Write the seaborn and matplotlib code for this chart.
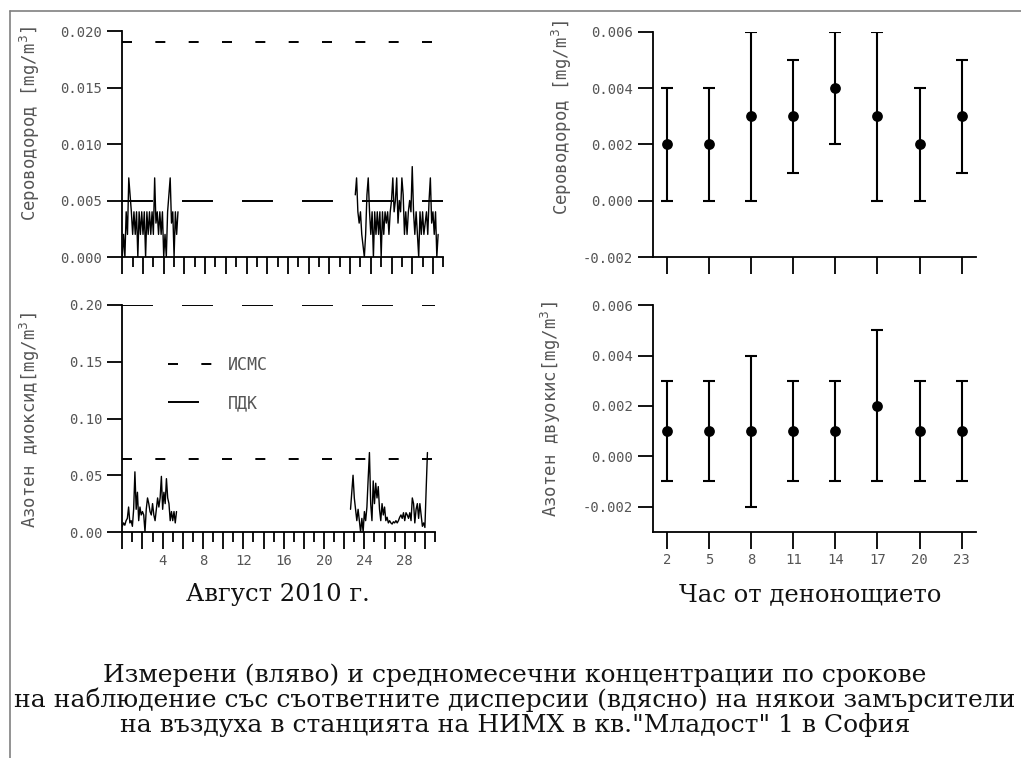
import numpy as np
import pandas as pd
import matplotlib
matplotlib.use("Agg")
import matplotlib.pyplot as plt
import seaborn as sns
from matplotlib.lines import Line2D
from matplotlib.ticker import FixedLocator, FuncFormatter

# ---------------- data ----------------
STEP = 0.125  # days between readings (3 h)

# Hydrogen sulphide, measured (mg/m3), two measuring periods in August 2010
h2s_p1_start = 0.0
h2s_p1 = [0.000, 0.002, 0.000, 0.004, 0.002, 0.007, 0.0055, 0.004,
          0.002, 0.004, 0.002, 0.004, 0.000, 0.004, 0.002, 0.004,
          0.002, 0.004, 0.000, 0.004, 0.002, 0.004, 0.002, 0.004,
          0.002, 0.007, 0.003, 0.004, 0.002, 0.004, 0.002, 0.004,
          0.000, 0.002, 0.000, 0.004, 0.0055, 0.007, 0.003, 0.004,
          0.000, 0.004, 0.002, 0.004]
h2s_p2_start = 22.5
h2s_p2 = [0.0055, 0.007, 0.004, 0.003, 0.004, 0.002, 0.001, 0.000,
          0.002, 0.0055, 0.007, 0.004, 0.002, 0.004, 0.000, 0.004,
          0.002, 0.004, 0.002, 0.004, 0.000, 0.004, 0.002, 0.004,
          0.003, 0.004, 0.002, 0.004, 0.005, 0.007, 0.004, 0.005,
          0.007, 0.003, 0.005, 0.004, 0.007, 0.0055, 0.002, 0.004,
          0.002, 0.004, 0.005, 0.004, 0.008, 0.004, 0.002, 0.004,
          0.002, 0.000, 0.004, 0.002, 0.004, 0.002, 0.003, 0.004,
          0.002, 0.005, 0.007, 0.003, 0.004, 0.002, 0.004, 0.000,
          0.002]

# Nitrogen dioxide, measured (mg/m3)
no2_p1_start = 0.0
no2_p1 = [0.005, 0.008, 0.006, 0.010, 0.012, 0.022, 0.008, 0.010,
          0.005, 0.020, 0.053, 0.020, 0.035, 0.010, 0.022, 0.015,
          0.018, 0.015, 0.000, 0.020, 0.030, 0.025, 0.018, 0.015,
          0.025, 0.015, 0.010, 0.020, 0.030, 0.022, 0.030, 0.049,
          0.020, 0.035, 0.025, 0.047, 0.030, 0.025, 0.010, 0.018,
          0.010, 0.018, 0.008, 0.018]
no2_p2_start = 22.625
no2_p2 = [0.020, 0.035, 0.050, 0.030, 0.020,
          0.010, 0.020, 0.010, 0.000, 0.012, 0.000, 0.018, 0.010,
          0.022, 0.047, 0.070, 0.025, 0.010, 0.045, 0.025, 0.043,
          0.030, 0.040, 0.020, 0.010, 0.025, 0.015, 0.022, 0.010,
          0.013, 0.008, 0.010, 0.008, 0.007, 0.009, 0.008, 0.010,
          0.008, 0.010, 0.013, 0.015, 0.012, 0.017, 0.010, 0.017,
          0.015, 0.012, 0.017, 0.010, 0.030, 0.025, 0.008, 0.020,
          0.025, 0.012, 0.025, 0.015, 0.005, 0.008, 0.004, 0.038,
          0.070]

# limit values (mg/m3)
h2s_isms, h2s_pdk = 0.019, 0.005
no2_isms, no2_pdk = 0.064, 0.20
legend_labels = ["ИСМС", "ПДК"]

# monthly means by observation hour with dispersions
hours = [2, 5, 8, 11, 14, 17, 20, 23]
h2s_mean = [0.002, 0.002, 0.003, 0.003, 0.004, 0.003, 0.002, 0.003]
h2s_err = [0.002, 0.002, 0.003, 0.002, 0.002, 0.003, 0.002, 0.002]
no2_mean = [0.001, 0.001, 0.001, 0.001, 0.001, 0.002, 0.001, 0.001]
no2_err = [0.002, 0.002, 0.003, 0.002, 0.002, 0.003, 0.002, 0.002]

ylab_h2s = "Сероводород [mg/m$^3$]"
ylab_no2_left = "Азотен диоксид[mg/m$^3$]"
ylab_no2_right = "Азотен двуокис[mg/m$^3$]"
xlab_left = "Август 2010 г."
xlab_right = "Час от денонощието"
caption = ("Измерени (вляво) и средномесечни концентрации по срокове\n"
           "на наблюдение със съответните дисперсии (вдясно) на някои замърсители\n"
           "на въздуха в станцията на НИМХ в кв.\"Младост\" 1 в София")

# ---------------- style ----------------
sns.set_theme(style="white")
plt.rcParams["font.family"] = ["DejaVu Sans Mono", "DejaVu Sans"]
plt.rcParams["axes.unicode_minus"] = False
plt.rcParams["lines.scale_dashes"] = False

MONO = ["DejaVu Sans Mono", "DejaVu Sans"]
ISMS_STYLE = (0, (7.2, 16.8))
PDK_STYLE = (0, (22.3, 20.9))
YLAB_SIZE = 12.5


def series_frame(start, values, period):
    days = start + np.arange(len(values)) * STEP
    return pd.DataFrame({"day": days, "value": values, "period": period})


def style_axes(ax):
    sns.despine(ax=ax)
    for s in ("left", "bottom"):
        ax.spines[s].set_color("black")
        ax.spines[s].set_linewidth(1.3)
    ax.tick_params(axis="y", direction="out", length=11, width=1.3, color="black",
                   labelsize=10, labelcolor="#555555", pad=3.5, left=True)
    ax.tick_params(axis="x", which="major", direction="out", length=12.5, width=1.3,
                   color="black", labelsize=10, labelcolor="#555555", pad=3, bottom=True)
    ax.tick_params(axis="x", which="minor", direction="out", length=7, width=1.3,
                   color="black", bottom=True)
    for lab in ax.get_yticklabels() + ax.get_xticklabels():
        lab.set_family(MONO)
    ax.grid(False)
    ax.set_xlabel("")


def day_ticks(ax, labels):
    ax.xaxis.set_major_locator(FixedLocator(np.arange(0, 32, 2)))
    ax.xaxis.set_minor_locator(FixedLocator(np.arange(1, 32, 2)))
    if labels:
        ax.xaxis.set_major_formatter(FuncFormatter(
            lambda v, p: f"{int(round(v))}" if int(round(v)) % 4 == 0 and v > 0 else ""))
    else:
        ax.tick_params(axis="x", which="both", labelbottom=False)


W, H = 1021, 758
fig = plt.figure(figsize=(W / 100, H / 100), dpi=100)

def px_axes(x0, x1, y0, y1):
    return fig.add_axes([x0 / W, 1 - y1 / H, (x1 - x0) / W, (y1 - y0) / H])

ax_tl = px_axes(122.3, 443.3, 31, 257)
ax_bl = px_axes(122.3, 435.0, 305, 532)
ax_tr = px_axes(653, 975.7, 31.7, 257)
ax_br = px_axes(653, 975.7, 305.3, 531.7)

# ---- top left: H2S measured ----
df = pd.concat([series_frame(h2s_p1_start, h2s_p1, 1), series_frame(h2s_p2_start, h2s_p2, 2)])
sns.lineplot(data=df, x="day", y="value", units="period", estimator=None,
             color="black", lw=1.0, ax=ax_tl)
ax_tl.axhline(h2s_isms, color="black", lw=1.4, ls=ISMS_STYLE)
ax_tl.axhline(h2s_pdk, color="black", lw=1.4, ls=PDK_STYLE)
ax_tl.set_xlim(0, 31)
ax_tl.set_ylim(0, 0.020)
ax_tl.set_yticks([0, 0.005, 0.010, 0.015, 0.020])
ax_tl.yaxis.set_major_formatter(FuncFormatter(lambda v, p: f"{v:.3f}"))
day_ticks(ax_tl, False)
style_axes(ax_tl)
ax_tl.set_ylabel(ylab_h2s, fontsize=YLAB_SIZE, color="#555555", ha="center", va="center")
ax_tl.yaxis.set_label_coords(-0.2875, 0.59)

# ---- bottom left: NO2 measured ----
df = pd.concat([series_frame(no2_p1_start, no2_p1, 1), series_frame(no2_p2_start, no2_p2, 2)])
sns.lineplot(data=df, x="day", y="value", units="period", estimator=None,
             color="black", lw=1.0, ax=ax_bl)
l_isms = ax_bl.axhline(no2_isms, color="black", lw=1.4, ls=ISMS_STYLE, label=legend_labels[0])
l_pdk = ax_bl.axhline(no2_pdk, color="black", lw=1.4, ls=PDK_STYLE, label=legend_labels[1])
ax_bl.set_xlim(0, 31)
ax_bl.set_ylim(0, 0.20)
ax_bl.set_yticks([0, 0.05, 0.10, 0.15, 0.20])
ax_bl.yaxis.set_major_formatter(FuncFormatter(lambda v, p: f"{v:.2f}"))
day_ticks(ax_bl, True)
style_axes(ax_bl)
ax_bl.set_ylabel(ylab_no2_left, fontsize=YLAB_SIZE, color="#555555", ha="center", va="center")
ax_bl.yaxis.set_label_coords(-0.295, 0.493)
leg = ax_bl.legend(handles=[l_isms, l_pdk], loc="upper left", bbox_to_anchor=(0.146, 0.775),
                   frameon=False, borderpad=0, borderaxespad=0, handlelength=2.7,
                   handletextpad=0.9, labelspacing=1.2,
                   prop=dict(family=MONO, size=12))
for t in leg.get_texts():
    t.set_color("#555555")

# ---- right panels: monthly means with dispersion ----
def mean_panel(ax, means, errs, ylim, show_labels):
    sns.scatterplot(x=hours, y=means, color="black", s=60, edgecolor="black",
                    linewidth=0, zorder=3, ax=ax)
    ax.errorbar(hours, means, yerr=errs, fmt="none", ecolor="black",
                elinewidth=1.5, capsize=4.5, capthick=1.5)
    ax.set_xlim(1, 24)
    ax.set_ylim(*ylim)
    ax.set_xticks(hours)
    ax.set_yticks([-0.002, 0.000, 0.002, 0.004, 0.006])
    ax.yaxis.set_major_formatter(FuncFormatter(lambda v, p: f"{v:.3f}"))
    style_axes(ax)
    if not show_labels:
        ax.tick_params(axis="x", labelbottom=False)

mean_panel(ax_tr, h2s_mean, h2s_err, (-0.002, 0.006), False)
ax_tr.set_ylabel(ylab_h2s, fontsize=YLAB_SIZE, color="#555555", ha="center", va="center")
ax_tr.yaxis.set_label_coords(-0.282, 0.619)

mean_panel(ax_br, no2_mean, no2_err, (-0.003, 0.006), True)
ax_br.set_ylabel(ylab_no2_right, fontsize=YLAB_SIZE, color="#555555", ha="center", va="center")
ax_br.yaxis.set_label_coords(-0.316, 0.542)

# ---- texts ----
fig.text(278 / W, 1 - 595 / H, xlab_left, family="DejaVu Serif", fontsize=17.5,
         ha="center", va="center", color="#111111")
fig.text(810 / W, 1 - 595 / H, xlab_right, family="DejaVu Serif", fontsize=17.5,
         ha="center", va="center", color="#111111")
fig.text(515 / W, 1 - 700 / H, caption, family="DejaVu Serif", fontsize=18,
         ha="center", va="center", multialignment="center", linespacing=1.05,
         color="#111111")

# frame lines (top and left)
fig.add_artist(Line2D([10.3 / W, 1], [1 - 10.5 / H, 1 - 10.5 / H], transform=fig.transFigure,
                      color="#808080", lw=1.2))
fig.add_artist(Line2D([10.3 / W, 10.3 / W], [0, 1 - 10.5 / H], transform=fig.transFigure,
                      color="#808080", lw=1.2))

fig.savefig("out.png", dpi=100, facecolor="white")
